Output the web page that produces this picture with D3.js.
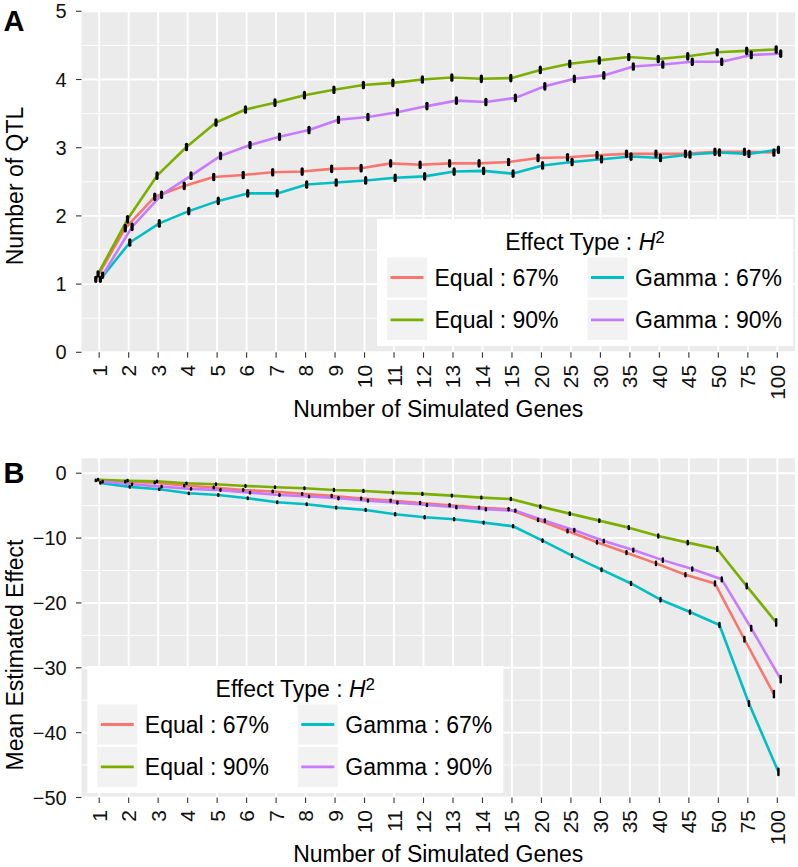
<!DOCTYPE html>
<html>
<head>
<meta charset="utf-8">
<script src="https://cdn.jsdelivr.net/npm/d3@7"></script>
<style>
  html, body { margin: 0; padding: 0; background: #ffffff; }
  svg { display: block; font-family: "Liberation Sans", Arial, Helvetica, sans-serif; }
</style>
</head>
<body>
<svg id="chart" width="798" height="867"></svg>
<script>
// ---------------- DATA ----------------
const categories = ["1","2","3","4","5","6","7","8","9","10","11","12","13","14","15","20","25","30","35","40","45","50","75","100"];
const seriesNames = ["Equal : 67%", "Equal : 90%", "Gamma : 67%", "Gamma : 90%"];
const seriesColors = ["#F8766D", "#7CAE00", "#00BFC4", "#C77CFF"];

// Panel A: Number of QTL
const qtlEqual67 = [1.07,1.82,2.28,2.44,2.57,2.60,2.64,2.65,2.69,2.70,2.77,2.75,2.77,2.77,2.79,2.85,2.86,2.89,2.91,2.91,2.91,2.94,2.94,2.93];
const qtlEqual90 = [1.15,1.95,2.59,3.01,3.37,3.56,3.66,3.77,3.85,3.92,3.95,4.00,4.03,4.01,4.02,4.14,4.23,4.28,4.33,4.30,4.34,4.40,4.42,4.44];
const qtlGamma67 = [1.07,1.61,1.89,2.07,2.22,2.33,2.33,2.46,2.49,2.52,2.56,2.58,2.65,2.66,2.62,2.74,2.79,2.83,2.87,2.85,2.90,2.93,2.91,2.97];
const qtlGamma90 = [1.13,1.84,2.31,2.59,2.88,3.04,3.16,3.26,3.41,3.45,3.52,3.61,3.69,3.67,3.73,3.90,4.01,4.06,4.19,4.22,4.26,4.26,4.36,4.38];
const qtlSE      = [0.03,0.04,0.04,0.04,0.04,0.04,0.04,0.04,0.04,0.04,0.04,0.04,0.04,0.04,0.04,0.04,0.04,0.04,0.04,0.04,0.04,0.04,0.04,0.04];
const qtlTicks = [0, 1, 2, 3, 4, 5];

// Panel B: Mean Estimated Effect
const effEqual67 = [-1.1,-1.3,-1.45,-1.9,-2.2,-2.58,-2.83,-3.19,-3.5,-3.91,-4.22,-4.58,-4.94,-5.3,-5.56,-7.2,-8.9,-10.65,-12.25,-13.9,-15.65,-17.0,-25.6,-34.06];
const effEqual90 = [-1.0,-1.15,-1.25,-1.55,-1.7,-1.96,-2.16,-2.32,-2.58,-2.73,-2.99,-3.19,-3.45,-3.76,-3.97,-5.15,-6.23,-7.31,-8.39,-9.68,-10.7,-11.68,-17.4,-23.0];
const effGamma67 = [-1.5,-2.1,-2.47,-3.1,-3.35,-3.86,-4.48,-4.79,-5.3,-5.66,-6.33,-6.79,-7.1,-7.62,-8.18,-10.4,-12.7,-14.87,-17.0,-19.5,-21.4,-23.4,-35.5,-46.05];
const effGamma90 = [-1.3,-1.7,-2.07,-2.42,-2.6,-2.99,-3.35,-3.6,-3.86,-4.22,-4.53,-4.89,-5.25,-5.56,-5.77,-7.31,-8.8,-10.45,-11.84,-13.4,-14.77,-16.36,-23.9,-31.74];
const effSE      = [0.1,0.1,0.1,0.1,0.12,0.12,0.12,0.12,0.15,0.15,0.15,0.15,0.15,0.15,0.15,0.18,0.2,0.2,0.22,0.25,0.25,0.3,0.35,0.5];
const effTicks = [0, -10, -20, -30, -40, -50];

// ---------------- DRAW ----------------
const svg = d3.select("#chart");
svg.append("rect").attr("width", 798).attr("height", 867).attr("fill", "#ffffff");

function drawPanel(cfg) {
  const g = svg.append("g");
  const x = d3.scalePoint().domain(categories).range([cfg.left, cfg.right]).padding(0.6);
  const y = d3.scaleLinear().domain(cfg.domain).range([cfg.bottom, cfg.top]);
  const step = x.step();
  const dodge = k => (k - 1.5) * step * 0.077;

  // panel background
  g.append("rect").attr("x", cfg.left).attr("y", cfg.top)
    .attr("width", cfg.right - cfg.left).attr("height", cfg.bottom - cfg.top)
    .attr("fill", "#EBEBEB");

  // minor horizontal gridlines
  g.selectAll(".minor").data(cfg.minor).enter().append("line")
    .attr("x1", cfg.left).attr("x2", cfg.right)
    .attr("y1", d => y(d)).attr("y2", d => y(d))
    .attr("stroke", "#ffffff").attr("stroke-width", 0.9);
  // major horizontal
  g.selectAll(".majorh").data(cfg.ticks).enter().append("line")
    .attr("x1", cfg.left).attr("x2", cfg.right)
    .attr("y1", d => y(d)).attr("y2", d => y(d))
    .attr("stroke", "#ffffff").attr("stroke-width", 1.9);
  // major vertical
  g.selectAll(".majorv").data(categories).enter().append("line")
    .attr("x1", d => x(d)).attr("x2", d => x(d))
    .attr("y1", cfg.top).attr("y2", cfg.bottom)
    .attr("stroke", "#ffffff").attr("stroke-width", 1.9);

  // lines
  cfg.series.forEach((vals, k) => {
    const line = d3.line().x((d, i) => x(categories[i]) + dodge(k)).y(d => y(d));
    g.append("path").datum(vals).attr("d", line)
      .attr("fill", "none").attr("stroke", seriesColors[k])
      .attr("stroke-width", 2.6).attr("stroke-linejoin", "round");
  });
  // error bars
  cfg.series.forEach((vals, k) => {
    g.selectAll(null).data(vals).enter().append("line")
      .attr("x1", (d, i) => x(categories[i]) + dodge(k))
      .attr("x2", (d, i) => x(categories[i]) + dodge(k))
      .attr("y1", (d, i) => y(d - cfg.se[i]))
      .attr("y2", (d, i) => y(d + cfg.se[i]))
      .attr("stroke", "#000000").attr("stroke-width", cfg.ebWidth)
      .attr("stroke-linecap", "round");
  });

  // y axis ticks & labels
  g.selectAll(".yt").data(cfg.ticks).enter().append("line")
    .attr("x1", cfg.left - 5.5).attr("x2", cfg.left)
    .attr("y1", d => y(d)).attr("y2", d => y(d))
    .attr("stroke", "#333333").attr("stroke-width", 1.1);
  g.selectAll(".yl").data(cfg.ticks).enter().append("text")
    .attr("x", 66.7).attr("y", d => y(d))
    .attr("text-anchor", "end").attr("dominant-baseline", "central")
    .attr("font-size", 20).attr("fill", "#111111")
    .text(d => d3.format("d")(d));

  // x axis ticks & labels
  g.selectAll(".xt").data(categories).enter().append("line")
    .attr("x1", d => x(d)).attr("x2", d => x(d))
    .attr("y1", cfg.bottom).attr("y2", cfg.bottom + 5.5)
    .attr("stroke", "#333333").attr("stroke-width", 1.1);
  g.selectAll(".xl").data(categories).enter().append("text")
    .attr("transform", d => `translate(${x(d)},${cfg.bottom + 12.5}) rotate(-90)`)
    .attr("text-anchor", "end").attr("dominant-baseline", "central")
    .attr("font-size", 21).attr("fill", "#111111")
    .text(d => d);

  // axis titles
  g.append("text").attr("x", (cfg.left + cfg.right) / 2).attr("y", cfg.bottom + 64.5)
    .attr("text-anchor", "middle").attr("font-size", 23).attr("fill", "#000")
    .text("Number of Simulated Genes");
  g.append("text").attr("transform", `translate(22.5,${cfg.yTitleY}) rotate(-90)`)
    .attr("text-anchor", "middle").attr("font-size", 23).attr("fill", "#000")
    .text(cfg.yTitle);

  // panel label
  g.append("text").attr("x", 3.5).attr("y", cfg.labelY)
    .attr("font-size", 29).attr("font-weight", "bold").attr("fill", "#000")
    .text(cfg.label);

  // legend
  const L = cfg.legend;
  const lg = g.append("g").attr("transform", `translate(${L.x},${L.y})`);
  lg.append("rect").attr("width", 416).attr("height", 127).attr("fill", "#ffffff");
  const t = lg.append("text").attr("x", 208).attr("y", 30.5)
    .attr("text-anchor", "middle").attr("font-size", 23).attr("fill", "#000");
  t.append("tspan").text("Effect Type : ");
  t.append("tspan").attr("font-style", "italic").text("H");
  t.append("tspan").attr("font-size", 17).attr("dy", -7).text("2");
  const order = [[0, 0], [1, 0], [0, 1], [1, 1]]; // [row, col] for each series
  seriesNames.forEach((name, k) => {
    const [row, col] = order[k];
    const kx = 10 + col * 200.5, ky = 38.5 + row * 42.4;
    lg.append("rect").attr("x", kx).attr("y", ky).attr("width", 40).attr("height", 40)
      .attr("fill", "#F2F2F2");
    lg.append("line").attr("x1", kx + 3.5).attr("x2", kx + 36.5)
      .attr("y1", ky + 20).attr("y2", ky + 20)
      .attr("stroke", seriesColors[k]).attr("stroke-width", 2.8);
    lg.append("text").attr("x", kx + 47.5).attr("y", ky + 20)
      .attr("dominant-baseline", "central").attr("font-size", 23).attr("fill", "#000")
      .text(name);
  });
}

drawPanel({
  left: 81.5, right: 795, top: 11.3, bottom: 352.3,
  domain: [0, 5], ticks: qtlTicks, minor: [0.5, 1.5, 2.5, 3.5, 4.5],
  series: [qtlEqual67, qtlEqual90, qtlGamma67, qtlGamma90], se: qtlSE, ebWidth: 3.2,
  yTitle: "Number of QTL", yTitleY: 186, label: "A", labelY: 31,
  legend: { x: 377, y: 219 }
});

drawPanel({
  left: 81.5, right: 795, top: 458.3, bottom: 797.5,
  domain: [-50, 2.3], ticks: effTicks, minor: [-5, -15, -25, -35, -45],
  series: [effEqual67, effEqual90, effGamma67, effGamma90], se: effSE, ebWidth: 2.4,
  yTitle: "Mean Estimated Effect", yTitleY: 655, label: "B", labelY: 482.7,
  legend: { x: 87.3, y: 666 }
});
</script>
</body>
</html>
